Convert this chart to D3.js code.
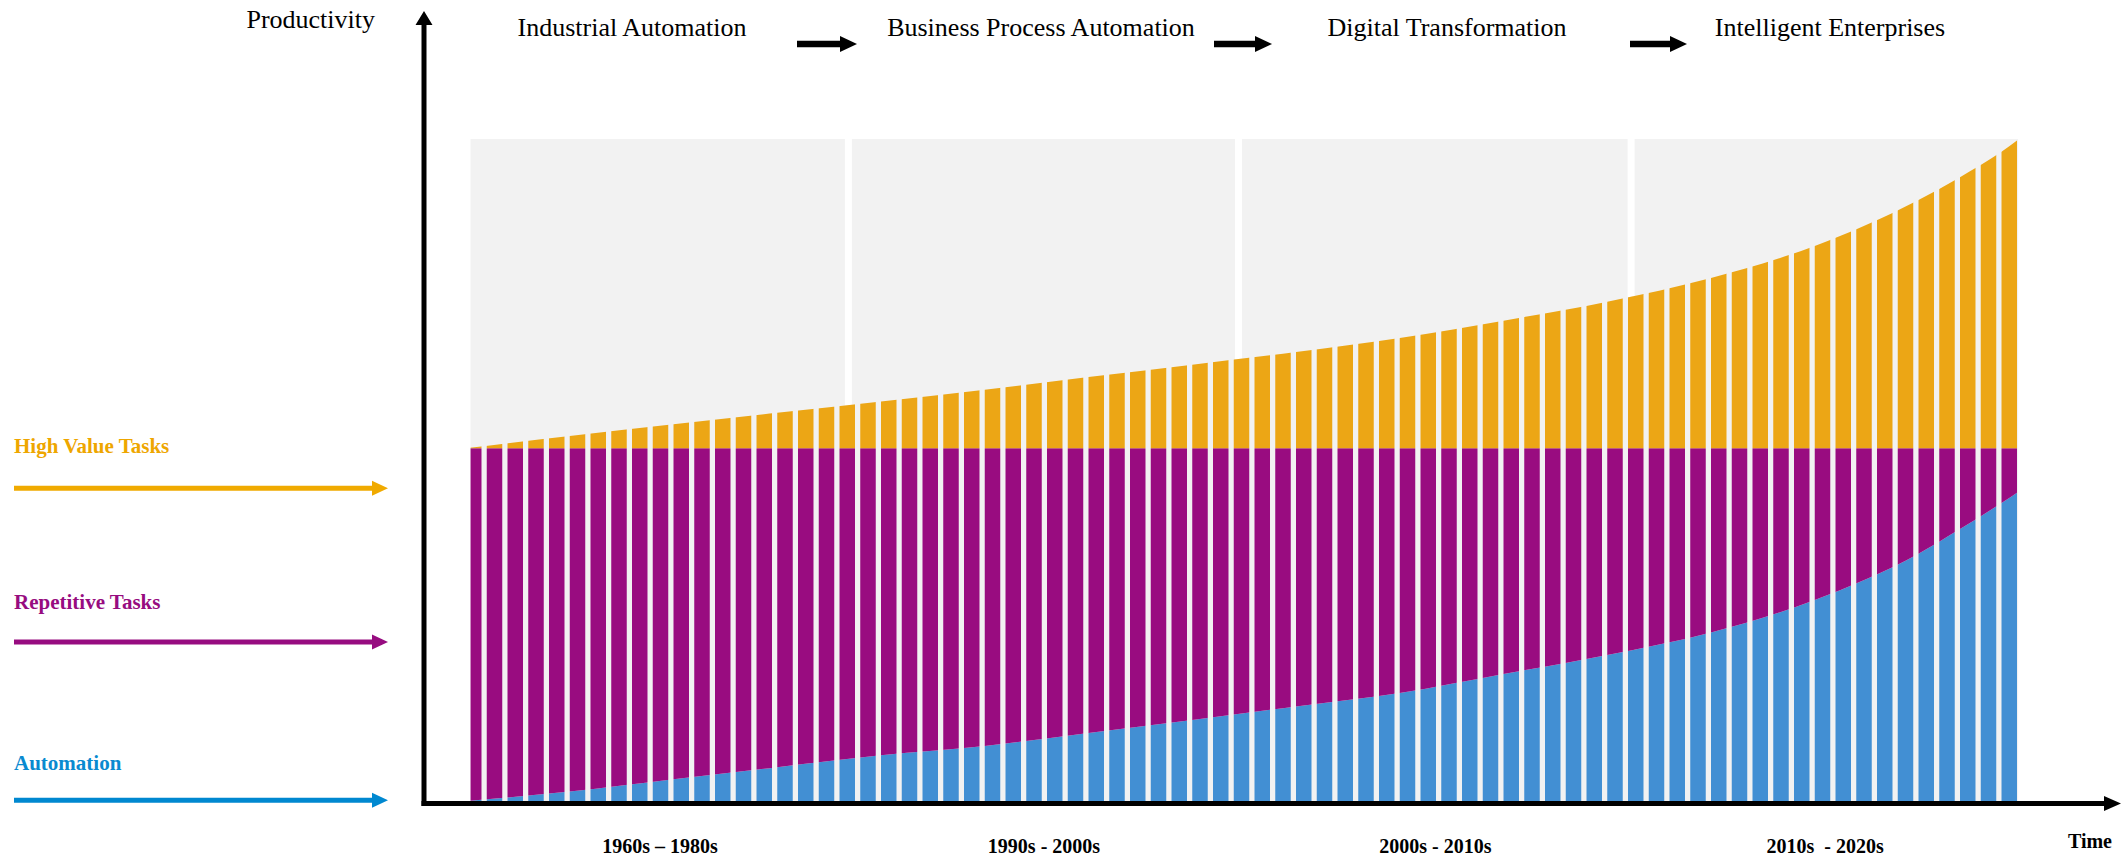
<!DOCTYPE html>
<html>
<head>
<meta charset="utf-8">
<script src="https://cdn.jsdelivr.net/npm/d3@7"></script>
<style>
	body { margin: 0; background: #fff; }
	svg text { font-family: 'Liberation Serif', 'Times New Roman', serif; }
</style>
</head>
<body>
<svg id="chart"></svg>
<script>
// phases along the top, eras along the bottom
const PHASES = ['Industrial Automation', 'Business Process Automation', 'Digital Transformation', 'Intelligent Enterprises']
const ERAS = ['1960s \u2013 1980s', '1990s - 2000s', '2000s - 2010s', '2010s  - 2020s']
// era limits, counted in bars from the left
const ERA_BOUNDS = [0.22, 18.43, 37.23, 56.15, 74.8]
const BAR_COUNT = 75

// productivity (repetitive + automation = 100)
const STEPS      = [0, 5, 10, 15, 20, 25, 30, 35, 40, 45, 50, 55, 60, 65, 70, 72, 74, 75]
const AUTOMATION = [0, 2.7, 6.2, 9.6, 13.0, 15.6, 19.3, 23.0, 26.8, 30.6, 36.0, 41.4, 47.8, 57.0, 70.1, 77.1, 84.5, 88.4]
const REPETITIVE = [100, 97.3, 93.8, 90.4, 87.0, 84.4, 80.7, 77.0, 73.2, 69.4, 64.0, 58.6, 52.2, 43.0, 29.9, 22.9, 15.5, 11.6]
const HIGH_VALUE = [0, 3.5, 6.8, 10.1, 13.3, 16.6, 20.2, 23.7, 27.3, 31.3, 36.2, 41.6, 48.3, 57.4, 70.4, 76.9, 84.1, 88.4]

const LEGEND = ['High Value Tasks', 'Repetitive Tasks', 'Automation']

const FILLS = {
	automation: '#428FD3',
	repetitive: '#990C80',
	highValue: '#ECA615',
}
const LEGEND_TEXT = ['#EEA600', '#970C80', '#0A8AD0']
const LEGEND_ARROW = ['#F0AA00', '#970C80', '#0088D0']
const PANEL = '#F2F2F2'

let width = 2123
let height = 859

let plotLeft = 466
let barStep = 20.75
let plotBottom = 801
let panelTop = 139

let svg = d3.select('#chart')
	.attr('width', width)
	.attr('height', height)

let x = d3.scaleLinear()
	.domain([0, BAR_COUNT])
	.range([plotLeft, plotLeft + BAR_COUNT * barStep])

let band = d3.scaleBand()
	.domain(d3.range(BAR_COUNT))
	.range([plotLeft, plotLeft + BAR_COUNT * barStep - 5.25])
	.paddingInner(0.253)

let y = d3.scaleLinear()
	.domain([0, 188])
	.range([plotBottom, 138])

let rows = STEPS.map((t, i) => ({
	t: t,
	automation: AUTOMATION[i],
	repetitive: REPETITIVE[i],
	highValue: HIGH_VALUE[i],
}))

let layers = d3.stack()
	.keys(['automation', 'repetitive', 'highValue'])(rows)

let area = d3.area()
	.x(d => x(d.data.t))
	.y0(d => y(d[0]))
	.y1(d => y(d[1]))
	.curve(d3.curveMonotoneX)

let defs = svg.append('defs')

let plotStart = x(ERA_BOUNDS[0])
let plotEnd = x(ERA_BOUNDS[ERA_BOUNDS.length - 1])

defs.append('clipPath')
	.attr('id', 'plot-clip')
	.append('rect')
	.attr('x', plotStart)
	.attr('y', 0)
	.attr('width', plotEnd - plotStart)
	.attr('height', plotBottom)

defs.append('clipPath')
	.attr('id', 'bar-clip')
	.selectAll('rect')
	.data(d3.range(BAR_COUNT))
	.enter()
		.append('rect')
		.attr('x', i => Math.max(band(i), plotStart))
		.attr('y', 0)
		.attr('width', i => band(i) + band.bandwidth() - Math.max(band(i), plotStart))
		.attr('height', plotBottom)

/**
 * gray era panels
 */
let eras = ERAS.map((label, i) => ({
	label: label,
	start: ERA_BOUNDS[i],
	end: ERA_BOUNDS[i + 1],
}))

svg.append('g')
	.selectAll('rect')
	.data(eras)
	.enter()
		.append('rect')
		.attr('x', (d, i) => x(d.start) + (i > 0 ? 3.5 : 0))
		.attr('y', panelTop)
		.attr('width', (d, i) => x(d.end) - x(d.start) - (i > 0 ? 3.5 : 0) - (i < eras.length - 1 ? 3.5 : 0))
		.attr('height', plotBottom - panelTop)
		.attr('fill', PANEL)

// the gaps between bars stay gray under the whole stack
let topLayer = layers[layers.length - 1]
svg.append('path')
	.datum(topLayer)
	.attr('clip-path', 'url(#plot-clip)')
	.attr('fill', PANEL)
	.attr('d', d3.area()
		.x(d => x(d.data.t))
		.y0(y(0))
		.y1(d => y(d[1]))
		.curve(d3.curveMonotoneX))

svg.append('g')
	.attr('clip-path', 'url(#bar-clip)')
	.selectAll('path')
	.data(layers)
	.enter()
		.append('path')
		.attr('fill', d => FILLS[d.key])
		.attr('d', area)

/**
 * axes
 */
function arrow(g, x1, x2, yy, shaft, headLen, headHalf, color) {
	let xh = x2 - headLen
	g.append('polygon')
		.attr('points', [
			[x1, yy - shaft / 2], [xh, yy - shaft / 2], [xh, yy - headHalf], [x2, yy],
			[xh, yy + headHalf], [xh, yy + shaft / 2], [x1, yy + shaft / 2],
		].join(' '))
		.attr('fill', color)
}

let axisG = svg.append('g')

// y axis goes up
axisG.append('polygon')
	.attr('points', [
		[421.5, 806], [421.5, 25], [415.5, 25], [424, 11],
		[432.5, 25], [426.5, 25], [426.5, 806],
	].join(' '))
	.attr('fill', '#000')

arrow(axisG, 421.5, 2121, 803.5, 5, 17, 7.5, '#000')

let eraAxis = d3.axisBottom(x)
	.tickValues(eras.map(d => (d.start + d.end) / 2))
	.tickFormat((d, i) => ERAS[i])
	.tickSize(0)
	.tickPadding(35)

svg.append('g')
	.attr('transform', `translate(0,${plotBottom + 2.5})`)
	.call(eraAxis)
	.call(g => g.select('.domain').remove())
	.call(g => g.selectAll('text')
		.attr('font-family', "'Liberation Serif', serif")
		.attr('font-size', 20)
		.attr('font-weight', 700)
		.attr('fill', '#000')
		.style('white-space', 'pre'))

svg.append('text')
	.attr('x', 375)
	.attr('y', 28)
	.attr('text-anchor', 'end')
	.attr('font-size', 26)
	.text('Productivity')

svg.append('text')
	.attr('x', 2112)
	.attr('y', 848)
	.attr('text-anchor', 'end')
	.attr('font-size', 20)
	.attr('font-weight', 700)
	.text('Time')

/**
 * phases with arrows between them
 */
let phaseX = [632, 1041, 1447, 1830]
let phaseArrows = [[797, 857], [1214, 1272], [1630, 1687]]

svg.append('g')
	.selectAll('text')
	.data(PHASES)
	.enter()
		.append('text')
		.attr('x', (d, i) => phaseX[i])
		.attr('y', 36)
		.attr('text-anchor', 'middle')
		.attr('font-size', 26)
		.text(d => d)

let phaseArrowG = svg.append('g')
phaseArrows.forEach(a => arrow(phaseArrowG, a[0], a[1], 44, 6.5, 17, 8, '#000'))

/**
 * legend on the left
 */
let legendBase = [453, 609, 770]
let legendArrowY = [488.3, 642, 800.3]

let legendG = svg.append('g')

LEGEND.forEach((label, i) => {
	legendG.append('text')
		.attr('x', 14)
		.attr('y', legendBase[i])
		.attr('font-size', 21)
		.attr('font-weight', 700)
		.attr('fill', LEGEND_TEXT[i])
		.text(label)

	arrow(legendG, 14, 388, legendArrowY[i], 5, 16, 7.5, LEGEND_ARROW[i])
})
</script>
</body>
</html>
